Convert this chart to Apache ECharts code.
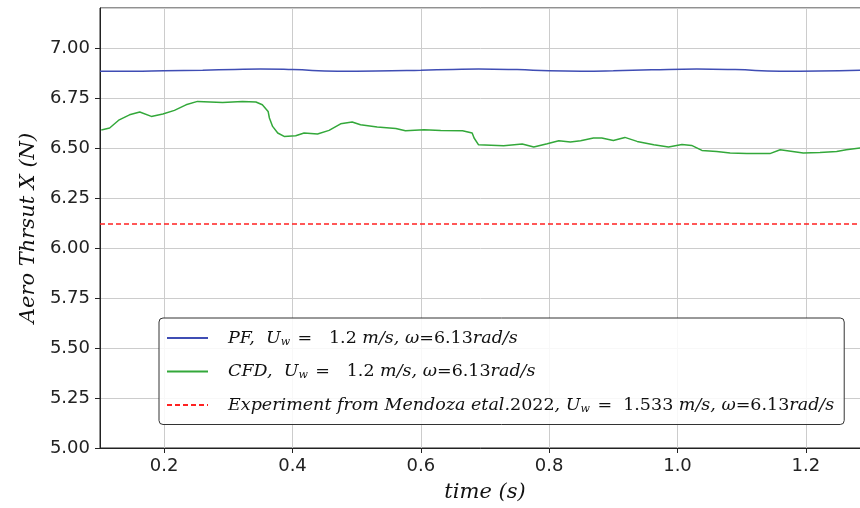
<!DOCTYPE html>
<html>
<head>
<meta charset="utf-8">
<script src="https://cdn.jsdelivr.net/npm/echarts@6/dist/echarts.min.js"></script>
<style>
    html, body { margin: 0; padding: 0; background: #fff; }
    #chart { width: 860px; height: 508px; }
</style>
</head>
<body>
<div id="chart"></div>
<script>
    // PF 结果
    var pfTime = [0.10, 0.15, 0.20, 0.26, 0.31, 0.35, 0.40, 0.47, 0.53, 0.60, 0.65, 0.69, 0.75, 0.80, 0.85, 0.90, 0.96, 1.03, 1.09, 1.16, 1.22, 1.29];
    var pfThrust = [6.884, 6.884, 6.886, 6.889, 6.893, 6.895, 6.892, 6.884, 6.885, 6.889, 6.893, 6.895, 6.892, 6.886, 6.884, 6.886, 6.891, 6.895, 6.892, 6.884, 6.885, 6.889];

    // CFD 结果
    var cfdTime = [0.102, 0.115, 0.130, 0.146, 0.162, 0.180, 0.198, 0.216, 0.234, 0.252, 0.291, 0.322, 0.343, 0.353, 0.362, 0.364, 0.369, 0.377, 0.387, 0.405,
        0.418, 0.439, 0.457, 0.475, 0.493, 0.506, 0.532, 0.561, 0.576, 0.605, 0.631, 0.665, 0.680, 0.683, 0.690,
        0.729, 0.758, 0.776, 0.797, 0.815, 0.833, 0.849, 0.869, 0.882, 0.900, 0.918, 0.937, 0.963, 0.986,
        1.007, 1.022, 1.038, 1.061, 1.082, 1.108, 1.144, 1.160, 1.196, 1.222, 1.248, 1.263, 1.290];
    var cfdThrust = [6.590, 6.600, 6.641, 6.666, 6.680, 6.658, 6.670, 6.688, 6.716, 6.733, 6.728, 6.733, 6.730, 6.716, 6.683, 6.650, 6.608, 6.575, 6.558, 6.561,
        6.575, 6.570, 6.588, 6.621, 6.630, 6.616, 6.605, 6.598, 6.586, 6.591, 6.588, 6.586, 6.575, 6.550, 6.516,
        6.511, 6.520, 6.505, 6.521, 6.536, 6.530, 6.536, 6.550, 6.550, 6.538, 6.553, 6.533, 6.516, 6.505,
        6.518, 6.513, 6.488, 6.483, 6.475, 6.472, 6.472, 6.491, 6.475, 6.478, 6.483, 6.491, 6.502];

    // 实验值
    var expTime = [0.1, 1.3];
    var expThrust = [6.12, 6.12];

    var yTicks = [5.00, 5.25, 5.50, 5.75, 6.00, 6.25, 6.50, 6.75, 7.00];

    var legendNames = ['PF', 'CFD', 'Experiment'];

    var zip = function (xs, ys) {
        return xs.map(function (x, i) { return [x, ys[i]]; });
    };

    var serif = 'DejaVu Serif';

    var legendText = {
        'PF': '{i|PF,  U}{s|w}{n| =   1.2 }{i|m/s, ω}{n|=6.13}{i|rad/s}',
        'CFD': '{i|CFD,  U}{s|w}{n| =   1.2 }{i|m/s, ω}{n|=6.13}{i|rad/s}',
        'Experiment': '{i|Experiment from Mendoza etal.}{n|2022}{i|, U}{s|w}{n| =  1.533 }{i|m/s, ω}{n|=6.13}{i|rad/s}'
    };

    var chart = echarts.init(document.getElementById('chart'));

    var option = {
        animation: false,
        backgroundColor: '#fff',
        grid: {
            left: 100,
            right: -10,
            top: 8,
            bottom: 60,
            outerBoundsMode: 'none',
            containLabel: false,
            show: true,
            borderColor: '#222',
            borderWidth: 1
        },
        legend: {
            data: legendNames,
            orient: 'vertical',
            left: 159,
            top: 318,
            itemWidth: 41,
            itemHeight: 14,
            itemGap: 15,
            padding: [11, 10, 10, 7],
            backgroundColor: 'rgba(255,255,255,0.85)',
            borderColor: '#333',
            borderWidth: 1,
            borderRadius: 4,
            itemStyle: { opacity: 0 },
            formatter: function (name) {
                return legendText[name];
            },
            textStyle: {
                padding: [0, 0, 0, 15],
                rich: {
                    i: { fontFamily: serif, fontStyle: 'italic', fontSize: 17.5, color: '#111' },
                    n: { fontFamily: serif, fontSize: 17.5, color: '#111' },
                    s: { fontFamily: serif, fontStyle: 'italic', fontSize: 11, color: '#111', padding: [8, 2, 0, 0] }
                }
            }
        },
        xAxis: [
            {
                type: 'value',
                min: 0.1,
                max: 1.3,
                splitNumber: 6,
                name: 'time (s)',
                nameLocation: 'middle',
                nameGap: 34,
                nameTextStyle: { fontFamily: serif, fontStyle: 'italic', fontSize: 21, color: '#111' },
                axisLine: { lineStyle: { color: '#222', width: 1 } },
                axisTick: { show: true, length: 5, lineStyle: { color: '#222' } },
                axisLabel: {
                    showMinLabel: false,
                    showMaxLabel: false,
                    fontFamily: 'DejaVu Sans',
                    fontSize: 18,
                    color: '#222',
                    margin: 9,
                    formatter: function (v) { return v.toFixed(1); }
                },
                splitLine: { show: true, lineStyle: { color: '#cccccc', width: 1 } }
            }
        ],
        yAxis: {
            type: 'value',
            min: 5,
            max: 7.2,
            interval: 0.25,
            name: 'Aero Thrsut X (N)',
            nameLocation: 'middle',
            nameGap: 59,
            nameTextStyle: { fontFamily: serif, fontStyle: 'italic', fontSize: 21, color: '#111' },
            axisLine: { show: true, lineStyle: { color: '#222', width: 1 } },
            axisTick: { show: true, length: 5, lineStyle: { color: '#222' } },
            axisLabel: {
                showMaxLabel: false,
                fontFamily: 'DejaVu Sans',
                fontSize: 18,
                color: '#222',
                margin: 10,
                formatter: function (v) {
                    return yTicks.indexOf(v) >= 0 ? v.toFixed(2) : '';
                }
            },
            splitLine: { show: true, lineStyle: { color: '#cccccc', width: 1 } }
        },
        series: [
            {
                name: 'PF',
                type: 'line',
                smooth: true,
                symbol: 'none',
                data: zip(pfTime, pfThrust),
                lineStyle: { color: '#3f4db4', width: 1.5 },
                itemStyle: { color: '#3f4db4' }
            },
            {
                name: 'CFD',
                type: 'line',
                symbol: 'none',
                data: zip(cfdTime, cfdThrust),
                lineStyle: { color: '#33a83a', width: 1.5 },
                itemStyle: { color: '#33a83a' }
            },
            {
                name: 'Experiment',
                type: 'line',
                symbol: 'none',
                data: zip(expTime, expThrust),
                lineStyle: { color: '#ff2222', width: 1.6, type: [5, 3] },
                itemStyle: { color: '#ff2222' }
            }
        ]
    };

    chart.setOption(option);
</script>
</body>
</html>
